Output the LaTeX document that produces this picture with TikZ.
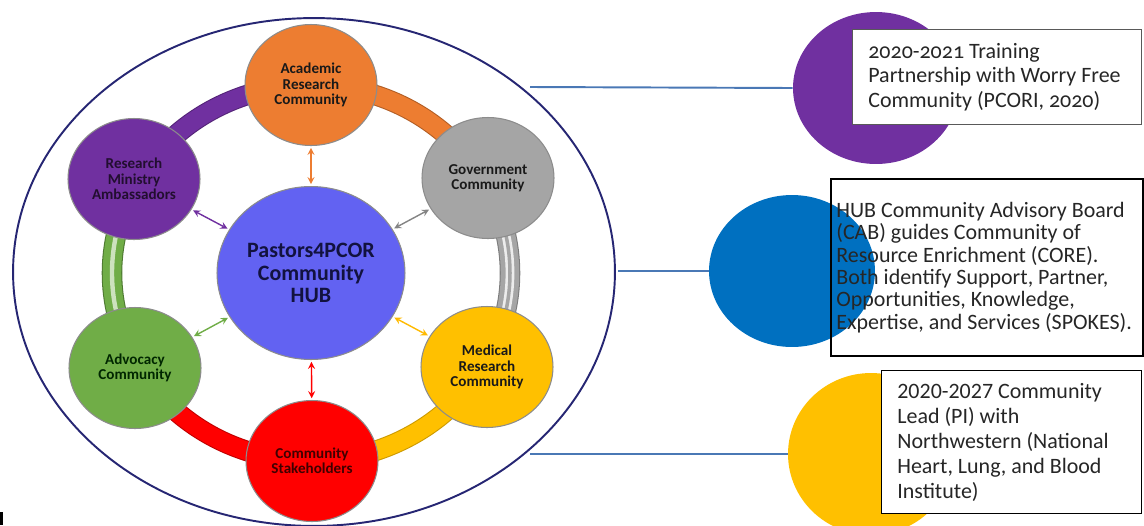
\documentclass[tikz,border=0pt]{standalone}
\usepackage{fontspec}
\setmainfont{Carlito}
\newfontfamily\oldnums[Numbers=OldStyle]{Carlito}
\usetikzlibrary{shapes.geometric, arrows, positioning}
\definecolor{purpleC}{HTML}{7030A0}
\definecolor{orangeC}{HTML}{ED7D31}
\definecolor{grayC}{HTML}{A5A5A5}
\definecolor{yellowC}{HTML}{FFC000}
\definecolor{redC}{HTML}{FF0000}
\definecolor{greenC}{HTML}{70AD47}
\definecolor{hubC}{HTML}{6262F2}
\definecolor{blueC}{HTML}{0070C0}
\definecolor{ringC}{HTML}{262673}
\definecolor{lineC}{HTML}{4A78B5}
\definecolor{navyT}{HTML}{12123F}
\tikzstyle{comm} = [ellipse, draw=black!45, line width=0.6pt, minimum width=2.64cm, minimum height=2.42cm, inner sep=0pt, align=center, font=\bfseries\fontsize{8.6}{8.8}\selectfont, text=black!90]
\tikzstyle{hubnode} = [ellipse, draw=black!45, line width=0.6pt, fill=hubC, minimum width=3.76cm, minimum height=3.46cm, inner sep=0pt, align=center, font=\bfseries\fontsize{12.5}{12.6}\selectfont, text=navyT]
\tikzstyle{outer} = [ellipse, draw=ringC, line width=1.1pt, minimum width=12.04cm, minimum height=10.16cm]
\tikzstyle{band} = [line width=0.6pt, double distance=10.5pt]
\tikzstyle{link} = [<->, >=stealth, line width=0.8pt, shorten <=1pt, shorten >=1pt]
\tikzstyle{bigdot} = [ellipse, minimum width=3.32cm, minimum height=3.04cm, inner sep=0pt]
\tikzstyle{infobox} = [rectangle, fill=white, line width=0.8pt, inner sep=0pt, anchor=north west]
\tikzstyle{infotext} = [align=left, inner sep=0pt, anchor=west, text=black!85, font=\fontsize{12.5}{14.2}\selectfont]
\tikzstyle{conn} = [draw=lineC, line width=1.1pt]

\begin{document}
\begin{tikzpicture}[x=0.02cm, y=-0.02cm]
\useasboundingbox (0,0) rectangle (1144,525);
\node (ring) [outer] at (314,272) {};
\draw[band, draw=purpleC!75!black, double=purpleC] plot[domain=90:150, samples=25, smooth] ({311+199*cos(\x)},{273-188*sin(\x)});
\draw[band, draw=orangeC!75!black, double=orangeC] plot[domain=30:90, samples=25, smooth] ({311+199*cos(\x)},{273-188*sin(\x)});
\draw[band, draw=grayC!75!black, double=grayC] plot[domain=-30:30, samples=25, smooth] ({311+199*cos(\x)},{273-188*sin(\x)});
\draw[line width=5pt, white!85!gray] plot[domain=-30:30, samples=25, smooth] ({311+199*cos(\x)},{273-188*sin(\x)});
\draw[line width=2pt, grayC] plot[domain=-30:30, samples=25, smooth] ({311+199*cos(\x)},{273-188*sin(\x)});
\draw[band, draw=yellowC!80!black, double=yellowC] plot[domain=-90:-30, samples=25, smooth] ({311+199*cos(\x)},{273-188*sin(\x)});
\draw[band, draw=redC!75!black, double=redC] plot[domain=-150:-90, samples=25, smooth] ({311+199*cos(\x)},{273-188*sin(\x)});
\draw[band, draw=greenC!70!black, double=greenC] plot[domain=150:210, samples=25, smooth] ({311+199*cos(\x)},{273-188*sin(\x)});
\draw[line width=2.5pt, greenC!35!white] plot[domain=150:210, samples=25, smooth] ({311+199*cos(\x)},{273-188*sin(\x)});

\node (hub) [hubnode] at (311,273) {Pastors4PCOR\\Community\\HUB};
\node (acad) [comm, fill=orangeC] at (311,85) {Academic\\Research\\Community};
\node (gov) [comm, fill=grayC] at (488,178) {Government\\Community};
\node (med) [comm, fill=yellowC] at (487,367) {Medical\\Research\\Community};
\node (stake) [comm, fill=redC, text=red!25!black] at (312,461) {Community\\Stakeholders};
\node (advo) [comm, fill=greenC, text=green!15!black] at (135,368) {Advocacy\\Community};
\node (resm) [comm, fill=purpleC, text=purpleC!30!black] at (134,179) {Research\\Ministry\\Ambassadors};

\draw [link, orangeC](hub) -- (acad);
\draw [link, grayC!80!black](hub) -- (gov);
\draw [link, yellowC!90!orange](hub) -- (med);
\draw [link, redC](hub) -- (stake);
\draw [link, greenC](hub) -- (advo);
\draw [link, purpleC](hub) -- (resm);

\node (dot1) [bigdot, fill=purpleC] at (876,88) {};
\node (dot2) [bigdot, fill=blueC] at (792,271) {};
\node (dot3) [bigdot, fill=yellowC, minimum height=3.24cm] at (871,454) {};
\coordinate (e1) at (530,87);
\coordinate (e2) at (618,271);
\coordinate (e3) at (530,454);
\draw [conn](e1) -- (dot1.west);
\draw [conn](e2) -- (dot2.west);
\draw [conn](e3) -- (dot3.west);

\node (box1) [infobox, draw=black!65, minimum width=5.78cm, minimum height=1.9cm] at (852,29) {};
\node (box2) [infobox, draw=black, fill=none, line width=1.2pt, minimum width=6.24cm, minimum height=3.54cm] at (830,178) {};
\node (box3) [infobox, draw=black, minimum width=5.2cm, minimum height=2.86cm] at (881,370) {};
\node (txt1) [infotext, right=0.32cm of box1.west, font=\oldnums\fontsize{12.5}{14.2}\selectfont] {2020-2021 Training\\Partnership with Worry Free\\Community (PCORI, 2020)};
\node (txt2) [infotext, right=0.12cm of box2.west, font=\fontsize{12.5}{12.7}\selectfont] {HUB Community Advisory Board\\(CAB) guides Community of\\Resource Enrichment (CORE).\\Both identify Support, Partner,\\Opportunities, Knowledge,\\Expertise, and Services (SPOKES).};
\node (txt3) [infotext, right=0.32cm of box3.west] {2020-2027 Community\\Lead (PI) with\\Northwestern (National\\Heart, Lung, and Blood\\Institute)};
\draw[line width=1.6pt] (1.5,512) -- (1.5,525);
\end{tikzpicture}
\end{document}
